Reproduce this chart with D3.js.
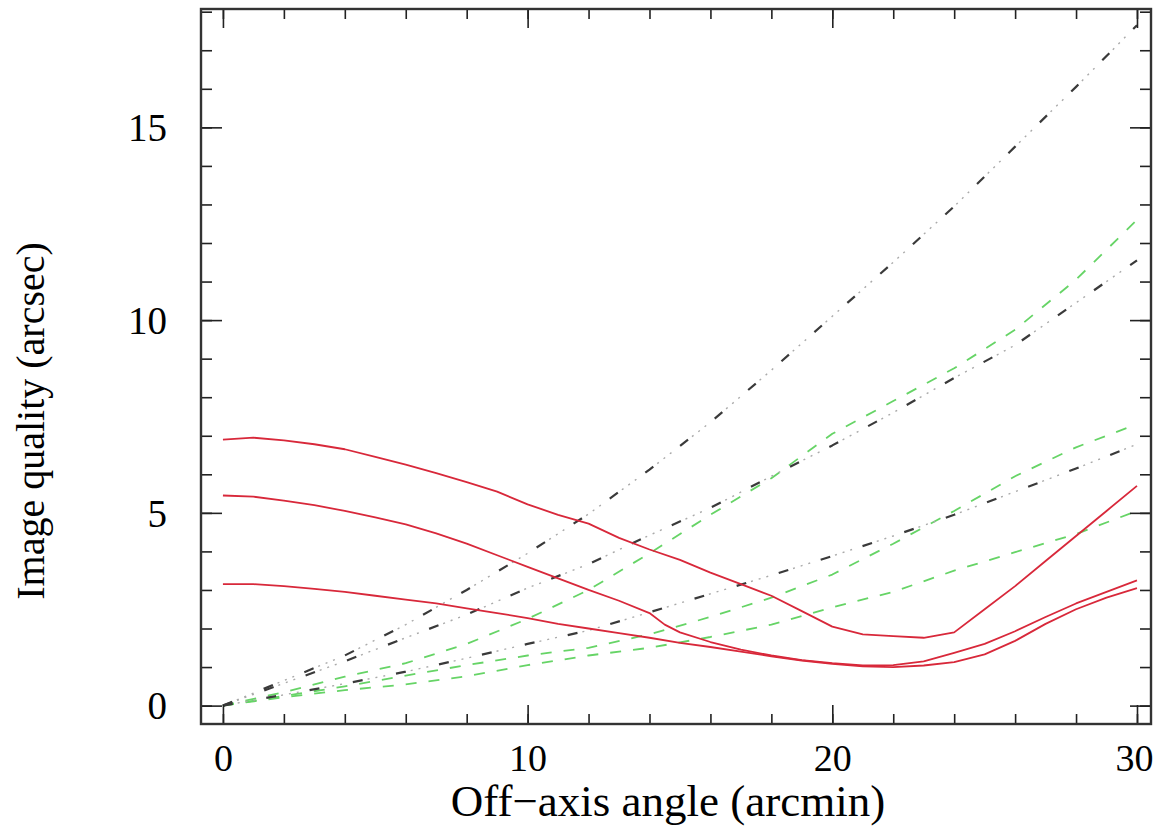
<!DOCTYPE html>
<html>
<head>
<meta charset="utf-8">
<script src="https://cdn.jsdelivr.net/npm/d3@7"></script>
<style>
  html, body { margin: 0; padding: 0; background: #fff; }
  svg { display: block; }
  text { font-family: "Liberation Serif", "Times New Roman", serif; fill: #000; }
</style>
</head>
<body>
<svg id="chart" width="1153" height="828"></svg>
<script>
// ---- data (off-axis angle in arcmin, image quality in arcsec) ----
const redTopX = [0,1,2,3,4,5,6,7,8,9,10,11,12,13,14,15,16,17,18,19,20,21,22,23,24,25,26,27,28,29,30];
const redTopY = [6.9,6.95,6.88,6.78,6.65,6.45,6.25,6.03,5.8,5.55,5.22,4.95,4.72,4.35,4.05,3.78,3.45,3.15,2.85,2.45,2.05,1.85,1.8,1.76,1.9,2.5,3.1,3.75,4.4,5.05,5.7];

const redMidX = [0,1,2,3,4,5,6,7,8,9,10,11,12,13,14,14.5,15,16,17,18,19,20,21,22,23,24,25,26,27,28,29,30];
const redMidY = [5.45,5.42,5.32,5.2,5.05,4.88,4.7,4.47,4.2,3.9,3.6,3.3,3.0,2.72,2.4,2.1,1.9,1.65,1.45,1.3,1.18,1.1,1.04,1.05,1.15,1.37,1.6,1.93,2.3,2.65,2.95,3.25];

const redLowX = [0,1,2,3,4,5,6,7,8,9,10,11,12,13,14,15,16,17,18,19,20,21,22,23,24,25,26,27,28,29,30];
const redLowY = [3.15,3.15,3.1,3.03,2.95,2.85,2.75,2.65,2.52,2.4,2.27,2.12,2.0,1.88,1.76,1.63,1.52,1.4,1.28,1.17,1.08,1.02,1.0,1.04,1.13,1.33,1.68,2.12,2.5,2.8,3.05];

const gridX = [0,2,4,6,8,10,12,14,16,18,20,22,24,26,28,30];
const blackSteepY = [0,0.65,1.3,2.1,3.0,3.95,4.97,6.12,7.35,8.7,10.1,11.5,12.95,14.5,16.05,17.65];
const blackMidY   = [0,0.58,1.15,1.76,2.36,3.05,3.67,4.42,5.13,5.95,6.75,7.6,8.5,9.35,10.45,11.55];
const blackLowY   = [0,0.28,0.57,0.88,1.23,1.6,1.95,2.42,2.9,3.38,3.88,4.4,4.95,5.55,6.15,6.78];
const greenTopY   = [0,0.35,0.75,1.1,1.6,2.25,3.0,3.95,4.95,5.9,7.05,7.9,8.75,9.75,11.05,12.6];
const greenMidY   = [0,0.25,0.5,0.78,1.05,1.3,1.5,1.85,2.3,2.8,3.4,4.2,5.05,5.95,6.7,7.3];
const greenLowY   = [0,0.22,0.4,0.55,0.76,1.05,1.3,1.5,1.78,2.1,2.55,2.95,3.5,3.98,4.45,5.05];

const xMajorTicks = [0,10,20,30];
const xMinorTicks = [0,2,4,6,8,10,12,14,16,18,20,22,24,26,28,30];
const yMajorTicks = [0,5,10,15];
const yMinorTicks = [0,1,2,3,4,5,6,7,8,9,10,11,12,13,14,15,16,17,18];

const xTitle = "Off\u2212axis angle (arcmin)";
const yTitle = "Image quality (arcsec)";

// ---- drawing ----
const svg = d3.select("#chart");
const L = 201, R = 1151, T = 9, B = 724;
const x = d3.scaleLinear().domain([-0.72, 30.46]).range([L, R]);
const y = d3.scaleLinear().domain([-0.477, 18.07]).range([B, T]);

const line = d3.line().x(d => x(d[0])).y(d => y(d[1]));
const zip = (xs, ys) => xs.map((v, i) => [v, ys[i]]);

const plot = svg.append("g");
function drawPath(xs, ys, color, dash, w, offset) {
  plot.append("path")
    .datum(zip(xs, ys))
    .attr("fill", "none")
    .attr("stroke", color)
    .attr("stroke-width", w)
    .attr("stroke-dasharray", dash)
    .attr("stroke-dashoffset", offset || 0)
    .attr("stroke-linejoin", "round")
    .attr("d", line);
}

// green dashed
[greenTopY, greenMidY, greenLowY].forEach(ys => {
  drawPath(gridX, ys, "#66d466", "11,12", 1.8);
});
// black dash-dot-dot-dot: dark dashes + light gray dots
[blackSteepY, blackMidY, blackLowY].forEach(ys => {
  drawPath(gridX, ys, "#aaaaaa", "0,15,2,6,2,6,2,11", 1.4);
  drawPath(gridX, ys, "#3a3a3a", "10,34", 2.2);
});
// red solid
[[redTopX, redTopY], [redMidX, redMidY], [redLowX, redLowY]].forEach(([xs, ys]) => {
  drawPath(xs, ys, "#d8283a", null, 1.8);
});

// axes with inward ticks on all four sides
const axColor = "#222";
function tickAxes(axisFn, scale, ticks, len, transform) {
  const g = svg.append("g").attr("transform", transform)
    .call(axisFn(scale).tickValues(ticks).tickSize(len).tickSizeOuter(0).tickFormat(""));
  g.select(".domain").remove();
  g.selectAll("line").attr("stroke", axColor).attr("stroke-width", 1.6);
  return g;
}
tickAxes(d3.axisTop, x, xMinorTicks, 10, `translate(0,${B})`);
tickAxes(d3.axisTop, x, xMajorTicks, 19, `translate(0,${B})`);
tickAxes(d3.axisBottom, x, xMinorTicks, 10, `translate(0,${T})`);
tickAxes(d3.axisBottom, x, xMajorTicks, 19, `translate(0,${T})`);
tickAxes(d3.axisRight, y, yMinorTicks, 11, `translate(${L},0)`);
tickAxes(d3.axisRight, y, yMajorTicks, 21, `translate(${L},0)`);
tickAxes(d3.axisLeft, y, yMinorTicks, 11, `translate(${R},0)`);
tickAxes(d3.axisLeft, y, yMajorTicks, 21, `translate(${R},0)`);

// frame
svg.append("rect").attr("x", L).attr("y", T).attr("width", R - L).attr("height", B - T)
  .attr("fill", "none").attr("stroke", "#333").attr("stroke-width", 2.4);

// tick labels
const labelFont = '"Liberation Serif", "Times New Roman", serif';
const xl = d3.axisBottom(x).tickValues(xMajorTicks).tickSize(0).tickPadding(0).tickFormat(d3.format("d"));
const gxl = svg.append("g").attr("transform", `translate(0,${B})`).call(xl);
gxl.select(".domain").remove();
gxl.selectAll("text").attr("font-size", 38).attr("dy", null).attr("y", 47)
  .attr("dx", d => d === 30 ? -3 : 0)
  .style("font-family", labelFont).attr("fill", "#000");

const yl = d3.axisLeft(y).tickValues(yMajorTicks).tickSize(0).tickPadding(0).tickFormat(d3.format("d"));
const gyl = svg.append("g").attr("transform", `translate(167,0)`).call(yl);
gyl.select(".domain").remove();
gyl.selectAll("text").attr("font-size", 39).attr("x", 0).attr("dy", "0.34em")
  .style("font-family", labelFont).attr("fill", "#000");

// titles
svg.append("text").attr("x", 668).attr("y", 816).attr("text-anchor", "middle")
  .attr("font-size", 45).text(xTitle);
svg.append("text").attr("transform", "translate(44,421) rotate(-90)").attr("text-anchor", "middle")
  .attr("font-size", 40).text(yTitle);
</script>
</body>
</html>
